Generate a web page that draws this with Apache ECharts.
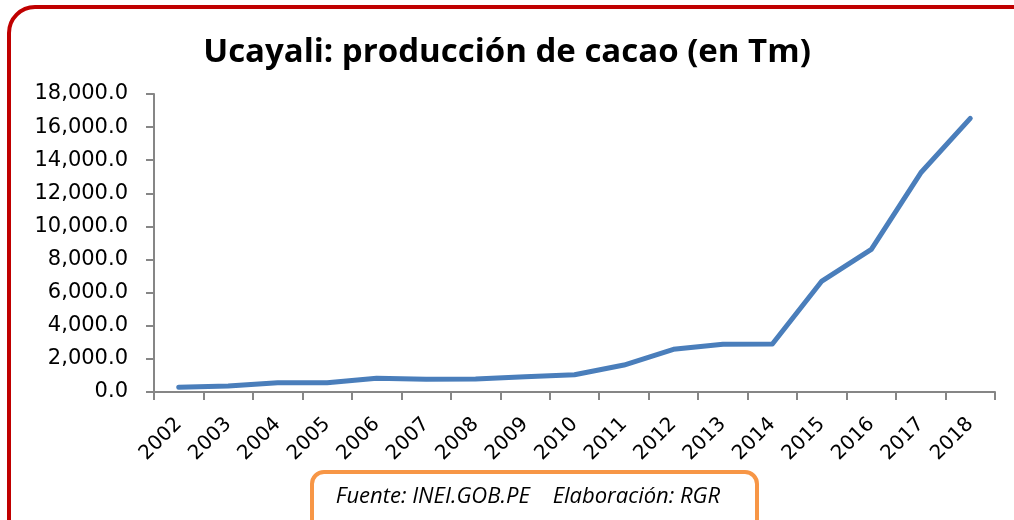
<!DOCTYPE html>
<html>
<head>
<meta charset="utf-8">
<script src="https://cdn.jsdelivr.net/npm/echarts@6/dist/echarts.min.js"></script>
<style>
  html, body { margin: 0; padding: 0; background: #fff; }
  #chart { width: 1014px; height: 520px; }
</style>
</head>
<body>
<div id="chart"></div>
<script>
var years = ['2002', '2003', '2004', '2005', '2006', '2007', '2008', '2009', '2010',
  '2011', '2012', '2013', '2014', '2015', '2016', '2017', '2018'];
var produccion = [280, 360, 560, 560, 830, 770, 790, 920, 1040,
  1630, 2580, 2880, 2900, 6700, 8620, 13240, 16530];

var chart = echarts.init(document.getElementById('chart'), null, { renderer: 'canvas' });

var axisGray = '#868686';

chart.setOption({
  animation: false,
  title: {
    text: 'Ucayali: producción de cacao (en Tm)',
    left: 'center',
    top: 31,
    textStyle: {
      fontFamily: 'Open Sans',
      fontWeight: 'bold',
      fontSize: 33,
      color: '#000'
    }
  },
  grid: {
    left: 154,
    right: 19,
    top: 94,
    bottom: 128
  },
  xAxis: {
    type: 'category',
    data: years,
    boundaryGap: true,
    axisLine: { lineStyle: { color: axisGray, width: 2 } },
    axisTick: { show: true, length: 8, lineStyle: { color: axisGray, width: 2 } },
    axisLabel: {
      rotate: 45,
      interval: 0,
      margin: 29,
      color: '#000',
      fontFamily: 'DejaVu Sans',
      fontSize: 20
    }
  },
  yAxis: {
    type: 'value',
    min: 0,
    max: 18000,
    interval: 2000,
    splitLine: { show: false },
    axisLine: { show: true, lineStyle: { color: axisGray, width: 2 } },
    axisTick: { show: true, length: 8, lineStyle: { color: axisGray, width: 2 } },
    axisLabel: {
      margin: 26,
      color: '#000',
      fontFamily: 'DejaVu Sans',
      fontSize: 21,
      formatter: function (v) {
        return v.toLocaleString('en-US', { minimumFractionDigits: 1, maximumFractionDigits: 1 });
      }
    }
  },
  series: [{
    name: 'Producción',
    type: 'line',
    data: produccion,
    showSymbol: false,
    lineStyle: { color: '#4a7ebb', width: 5, cap: 'round', join: 'round' },
    itemStyle: { color: '#4a7ebb' }
  }],
  graphic: [
    {
      // marco rojo
      type: 'rect',
      shape: { x: 9, y: 7, width: 1030, height: 560, r: 26 },
      style: { fill: 'none', stroke: '#c00000', lineWidth: 4 },
      silent: true,
      z: -1
    },
    {
      type: 'rect',
      shape: { x: 312, y: 472, width: 445, height: 80, r: 12 },
      style: { fill: '#fff', stroke: '#f79646', lineWidth: 4 },
      silent: true
    },
    {
      type: 'text',
      x: 528,
      y: 497,
      style: {
        text: 'Fuente: INEI.GOB.PE    Elaboración: RGR',
        fontFamily: 'Open Sans',
        fontStyle: 'italic',
        fontSize: 22,
        fill: '#000',
        align: 'center',
        verticalAlign: 'middle'
      },
      silent: true
    }
  ]
});
</script>
</body>
</html>
